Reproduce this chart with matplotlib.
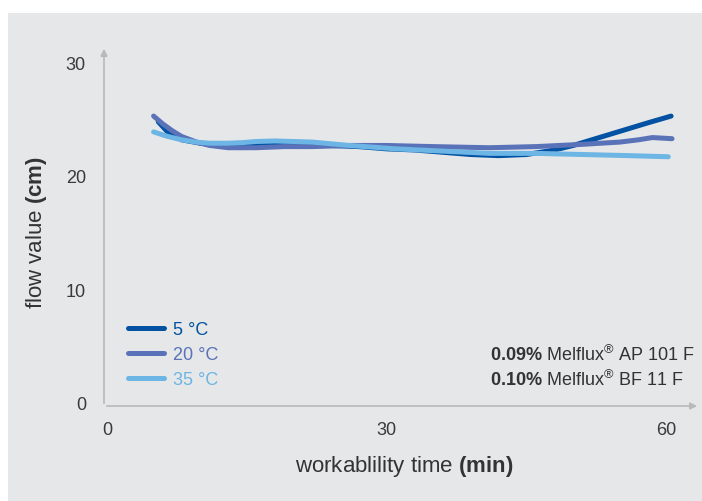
import matplotlib.pyplot as plt
from matplotlib.patches import Rectangle

plt.rcParams['font.family'] = ['Liberation Sans', 'DejaVu Sans']
plt.rcParams['mathtext.fontset'] = 'custom'
plt.rcParams['mathtext.rm'] = 'Liberation Sans'
plt.rcParams['mathtext.bf'] = 'Liberation Sans:bold'

# values
t_5 = [5.5, 6.5, 8, 10, 12, 15, 18, 21, 24, 27, 30, 33, 36, 39, 42, 45, 48, 50, 52, 54, 56, 58, 60.5]
v_5 = [24.8, 23.9, 23.2, 22.9, 22.7, 22.7, 22.8, 22.8, 22.7, 22.6, 22.4, 22.3, 22.1, 21.9, 21.8, 21.9, 22.3, 22.7, 23.2, 23.7, 24.2, 24.7, 25.3]

t_20 = [5, 6, 7, 8, 9.6, 11, 13, 16, 19, 22, 26, 30, 35, 41, 46, 51, 53, 55, 57, 58.5, 60.6]
v_20 = [25.3, 24.6, 24.0, 23.5, 23.0, 22.7, 22.5, 22.5, 22.6, 22.6, 22.7, 22.7, 22.6, 22.5, 22.6, 22.8, 22.9, 23.0, 23.2, 23.4, 23.3]

t_35 = [5, 6.5, 8, 9.5, 11, 13, 14.5, 16, 18, 20, 22, 24, 26, 28.5, 31, 33.5, 36, 38.5, 41, 46, 51, 56, 60.2]
v_35 = [23.9, 23.5, 23.2, 23.0, 22.9, 22.9, 22.95, 23.05, 23.1, 23.05, 23.0, 22.85, 22.7, 22.55, 22.4, 22.3, 22.2, 22.1, 22.0, 22.0, 21.9, 21.8, 21.7]

labels = ['5 °C', '20 °C', '35 °C']
colors = ['#0052a3', '#5a72b8', '#6cb5e4']
note1 = r'$\mathbf{0.09\%}$ Melflux$^{®}$ AP 101 F'
note2 = r'$\mathbf{0.10\%}$ Melflux$^{®}$ BF 11 F'

W, H = 702, 502
fig = plt.figure(figsize=(W / 100, H / 100), dpi=100)
fig.patches.append(Rectangle((8 / W, 0), 1, (H - 14) / H, transform=fig.transFigure,
                             facecolor='#e6e7e9', edgecolor='none', zorder=-10))

ax = fig.add_axes([104 / W, (H - 407) / H, (700 - 104) / W, (407 - 47) / H])
ax.set_zorder(2)
ax.set_facecolor('none')
ax.set_xlim(-0.32, 63.6)
ax.set_ylim(-0.35, 31.5)

for s in ax.spines.values():
    s.set_visible(False)
# axes with arrow heads
ax.annotate('', xy=(1, 0), xytext=(0, 0), xycoords='axes fraction',
            arrowprops=dict(arrowstyle='-|>', color='#b8b9bb', lw=1.2, mutation_scale=10))
ax.annotate('', xy=(0, 1), xytext=(0, 0), xycoords='axes fraction',
            arrowprops=dict(arrowstyle='-|>', color='#b8b9bb', lw=1.2, mutation_scale=10))

for t, v, lab, c in zip([t_5, t_20, t_35], [v_5, v_20, v_35], labels, colors):
    ax.plot(t, v, color=c, lw=3.6, solid_capstyle='round', solid_joinstyle='round', label=lab)

ax.set_xticks([0, 30, 60])
ax.set_yticks([0, 10, 20, 30])
ax.tick_params(length=0, labelsize=13, labelcolor='#3a3a3a')
ax.tick_params(axis='y', pad=13)
ax.tick_params(axis='x', pad=11)

leg = ax.legend(loc='upper left', bbox_to_anchor=(128 / W, (H - 322) / H),
                bbox_transform=fig.transFigure, frameon=False, fontsize=13,
                handlelength=2.0, handletextpad=0.5, labelspacing=0.44,
                borderpad=0, borderaxespad=0, labelcolor='linecolor')
for h in leg.get_lines():
    h.set_linewidth(3.6)
    h.set_solid_capstyle('round')

fig.text(490 / W, (H - 355) / H, note1, ha='left', va='center', fontsize=13, color='#333333')
fig.text(490 / W, (H - 380) / H, note2, ha='left', va='center', fontsize=13, color='#333333')

fig.text(404 / W, (H - 467) / H, r'workablility time $\mathbf{(min)}$', ha='center', va='center',
         fontsize=16, color='#333333')
fig.text(37 / W, (H - 233) / H, r'flow value $\mathbf{(cm)}$', ha='center', va='center',
         rotation=90, fontsize=16, color='#333333')

plt.savefig('out.png', dpi=100)
plt.close()
